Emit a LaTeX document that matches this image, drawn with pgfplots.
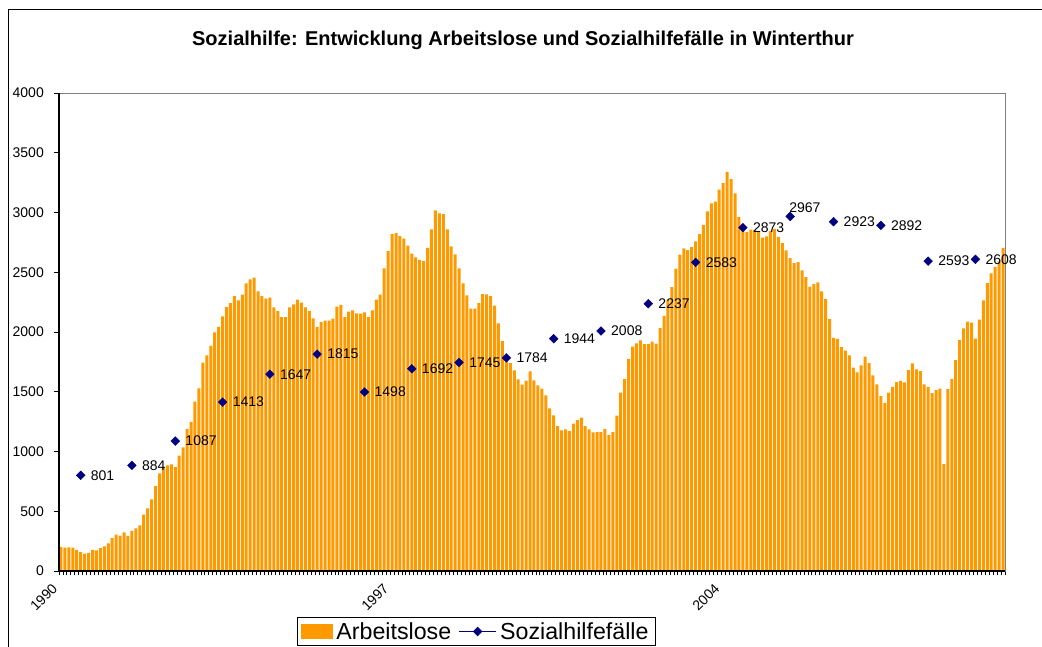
\documentclass[border=0pt]{standalone}
\usepackage{fontspec}
\setmainfont{Liberation Sans}
\usepackage{pgfplots}
\usepackage{pgfplotstable}
\pgfplotsset{compat=1.18}
\definecolor{barorange}{HTML}{FF9900}
\definecolor{navyX}{HTML}{000080}
\definecolor{frameGray}{HTML}{808080}

\pgfplotstableread{
x y
0 201
1 195
2 198
3 195
4 176
5 159
6 145
7 151
8 176
9 173
10 192
11 206
12 231
13 276
14 304
15 296
16 324
17 293
18 335
19 357
20 382
21 471
22 524
23 600
24 711
25 817
26 870
27 884
28 892
29 870
30 965
31 1035
32 1188
33 1247
34 1417
35 1528
36 1743
37 1804
38 1883
39 1997
40 2042
41 2131
42 2209
43 2242
44 2301
45 2265
46 2312
47 2407
48 2440
49 2454
50 2340
51 2301
52 2279
53 2287
54 2206
55 2175
56 2125
57 2125
58 2206
59 2231
60 2270
61 2245
62 2206
63 2175
64 2114
65 2042
66 2083
67 2095
68 2095
69 2111
70 2212
71 2226
72 2125
73 2170
74 2181
75 2156
76 2153
77 2164
78 2125
79 2181
80 2270
81 2312
82 2532
83 2677
84 2820
85 2828
86 2803
87 2781
88 2722
89 2655
90 2624
91 2602
92 2594
93 2703
94 2859
95 3018
96 2993
97 2987
98 2859
99 2716
100 2650
101 2532
102 2407
103 2306
104 2195
105 2195
106 2242
107 2318
108 2315
109 2301
110 2220
111 2072
112 1924
113 1807
114 1740
115 1679
116 1604
117 1559
118 1593
119 1671
120 1595
121 1553
122 1526
123 1470
124 1361
125 1302
126 1213
127 1177
128 1185
129 1171
130 1233
131 1263
132 1283
133 1213
134 1185
135 1160
136 1163
137 1163
138 1188
139 1138
140 1163
141 1300
142 1492
143 1606
144 1774
145 1877
146 1905
147 1930
148 1899
149 1899
150 1919
151 1902
152 2033
153 2134
154 2267
155 2376
156 2530
157 2647
158 2700
159 2686
160 2711
161 2758
162 2820
163 2895
164 3009
165 3076
166 3090
167 3191
168 3246
169 3341
170 3280
171 3160
172 2962
173 2881
174 2836
175 2856
176 2853
177 2845
178 2789
179 2800
180 2845
181 2862
182 2797
183 2744
184 2683
185 2619
186 2577
187 2585
188 2516
189 2460
190 2379
191 2401
192 2415
193 2340
194 2276
195 2108
196 1950
197 1942
198 1874
199 1844
200 1804
201 1701
202 1662
203 1721
204 1793
205 1740
206 1637
207 1562
208 1464
209 1406
210 1492
211 1540
212 1581
213 1590
214 1579
215 1682
216 1738
217 1687
218 1673
219 1562
220 1540
221 1489
222 1514
223 1526
224 895
225 1523
226 1606
227 1765
228 1933
229 2030
230 2086
231 2078
232 1944
233 2103
234 2265
235 2410
236 2491
237 2544
238 2591
239 2703
}\arbeitslose

\pgfplotstableread{
x y
5 801
18 884
29 1087
41 1413
53 1647
65 1815
77 1498
89 1692
101 1745
113 1784
125 1944
137 2008
149 2237
161 2583
173 2873
196 2923
208 2892
220 2593
232 2608
}\sozhilfe

\pgfplotstableread{
x y
185 2967
}\sozhilfetop

\begin{document}
\begin{tikzpicture}[x=1pt,y=1pt]
\path[use as bounding box] (0pt,0pt) rectangle (1042pt,-647pt);
\draw[line width=1.2pt] (8.5pt,-660pt) -- (8.5pt,-9.5pt) -- (1050pt,-9.5pt);
\node[anchor=base, font=\bfseries\fontsize{20}{24}\selectfont] at (523pt,-46pt) {Sozialhilfe: Entwicklung Arbeitslose und Sozialhilfefälle in Winterthur};
\begin{axis}[
  at={(59pt,-571pt)}, anchor=south west,
  width=946pt, height=478pt, scale only axis,
  xmin=-0.5, xmax=239.5, ymin=0, ymax=4000,
  clip=false,
  axis line style={draw=frameGray, line width=1pt},
  tick pos=left,
  tick align=outside,
  ytick={0,500,...,4000},
  xtick={0,84,168}, xticklabels={1990,1997,2004},
  minor xtick={-0.5,0.5,...,239.5},
  major tick length=5pt, minor tick length=4pt,
  tick style={black, line width=0.8pt},
  every major x tick/.append style={draw=none},
  /pgf/number format/1000 sep={},
  /pgf/number format/assume math mode=true,
  yticklabel style={font=\fontsize{14}{16}\selectfont, inner sep=0pt, anchor=east, xshift=-10pt},
  xticklabel style={font=\fontsize{14}{16}\selectfont, inner sep=0pt, anchor=east, xshift=-6pt, yshift=-10pt, rotate=45},
  legend style={at={(0.2516,-0.0962)}, anchor=north west, draw=black, line width=0.8pt,
    font=\fontsize{23.2}{27}\selectfont, inner xsep=3.5pt, inner ysep=3pt,
    nodes={inner xsep=3.5pt, inner ysep=2pt},
    /tikz/every even column/.append style={column sep=4pt}},
  legend columns=2,
]
\addplot[ybar, bar width=3pt, fill=barorange, draw=none,
  legend image code/.code={\fill[barorange] (0pt,-7.5pt) rectangle (32pt,7.5pt);}]
  table[x=x,y=y]{\arbeitslose};
\addplot[only marks, mark=square*, mark size=3.1pt, color=navyX,
  mark options={rotate=45, fill=navyX, draw=navyX},
  nodes near coords,
  every node near coord/.append style={anchor=west, inner sep=0pt, xshift=10pt, text=black, font=\fontsize{14}{16}\selectfont},
  legend image code/.code={\draw[navyX, line width=1pt] (0pt,0pt) -- (37pt,0pt);
     \fill[navyX] (18.5pt,4.2pt) -- (22.7pt,0pt) -- (18.5pt,-4.2pt) -- (14.3pt,0pt) -- cycle;}]
  table[x=x,y=y]{\sozhilfe};
\addplot[only marks, mark=square*, mark size=3.1pt, color=navyX, forget plot,
  mark options={rotate=45, fill=navyX, draw=navyX},
  nodes near coords,
  every node near coord/.append style={anchor=south west, inner sep=0pt, xshift=-1pt, yshift=3.6pt, text=black, font=\fontsize{14}{16}\selectfont}]
  table[x=x,y=y]{\sozhilfetop};
\draw[black, line width=1.2pt] (rel axis cs:0,1) -- (rel axis cs:0,0) -- (rel axis cs:1,0);
\legend{Arbeitslose, Sozialhilfefälle}
\end{axis}
\end{tikzpicture}
\end{document}
